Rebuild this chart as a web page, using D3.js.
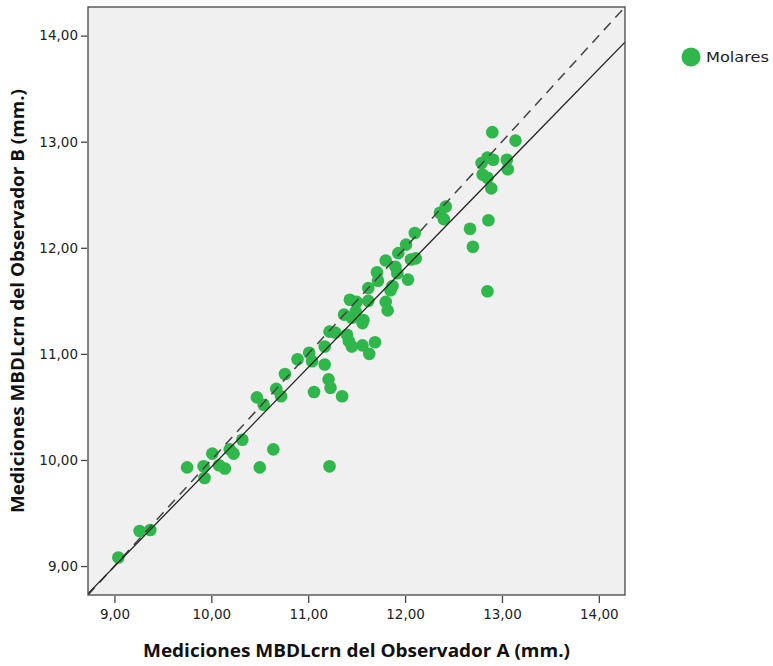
<!DOCTYPE html>
<html>
<head>
<meta charset="utf-8">
<script src="https://cdn.jsdelivr.net/npm/d3@7"></script>
<style>
  html, body { margin: 0; padding: 0; background: #ffffff; }
  svg { display: block; }
</style>
</head>
<body>
<svg id="chart" width="773" height="666"></svg>
<script>
// ---- data ----
const seriesName = "Molares";
const observerA = [
  9.04, 9.26, 9.37, 9.75, 9.92, 9.93, 10.01, 10.08, 10.14, 10.19,
  10.23, 10.32, 10.50, 10.64, 10.47, 10.54, 10.67, 10.72, 10.76, 10.89,
  11.01, 11.04, 11.06, 11.17, 11.17, 11.21, 11.23, 11.35, 11.22, 11.22,
  11.28, 11.37, 11.40, 11.42, 11.45, 11.43, 11.49, 11.50, 11.45, 11.57,
  11.56, 11.56, 11.69, 11.63, 11.62, 11.62, 11.80, 11.82, 11.71, 11.72,
  11.85, 11.87, 11.80, 11.90, 11.92, 12.03, 11.93, 12.01, 12.10, 12.11,
  12.06, 12.42, 12.36, 12.40, 12.67, 12.70, 12.86, 12.85, 12.90, 13.14,
  12.79, 12.85, 12.91, 13.05, 13.06, 12.80, 12.85, 12.89
];
const observerB = [
  9.08, 9.33, 9.34, 9.93, 9.94, 9.83, 10.06, 9.95, 9.92, 10.10,
  10.06, 10.19, 9.93, 10.10, 10.59, 10.52, 10.67, 10.60, 10.81, 10.95,
  11.01, 10.93, 10.64, 11.07, 10.90, 10.76, 10.68, 10.60, 9.94, 11.21,
  11.20, 11.37, 11.18, 11.12, 11.07, 11.51, 11.40, 11.49, 11.34, 11.32,
  11.29, 11.08, 11.11, 11.00, 11.62, 11.50, 11.49, 11.41, 11.77, 11.69,
  11.60, 11.64, 11.88, 11.82, 11.76, 11.70, 11.95, 12.03, 12.14, 11.90,
  11.89, 12.39, 12.33, 12.27, 12.18, 12.01, 12.26, 11.59, 13.09, 13.01,
  12.80, 12.85, 12.83, 12.83, 12.74, 12.69, 12.66, 12.56
];
const tickValues = [9, 10, 11, 12, 13, 14];
const axisDomain = [8.727, 14.27];
const fitIntercept = 0.554;
const fitSlope = 0.938;
const xTitle = "Mediciones MBDLcrn del Observador A (mm.)";
const yTitle = "Mediciones MBDLcrn del Observador B (mm.)";

// ---- layout ----
const svg = d3.select("#chart");
const L = 88, R = 625, T = 7, B = 595;
const x = d3.scaleLinear().domain(axisDomain).range([L, R]);
const y = d3.scaleLinear().domain(axisDomain).range([B, T]);
const fmt = d => d.toFixed(2).replace(".", ",");
const green = "#2fb74b";

svg.append("rect").attr("x", L).attr("y", T).attr("width", R - L).attr("height", B - T)
  .attr("fill", "#f0f0f0");

svg.append("clipPath").attr("id", "clip").append("rect")
  .attr("x", L).attr("y", T).attr("width", R - L).attr("height", B - T);

const pts = observerA.map((a, i) => ({ a, b: observerB[i] }));

const g = svg.append("g").attr("clip-path", "url(#clip)");
g.selectAll("circle").data(pts).join("circle")
  .attr("cx", d => x(d.a)).attr("cy", d => y(d.b)).attr("r", 6.3)
  .attr("fill", green);

// identity (dashed) line
g.append("line")
  .attr("x1", x(axisDomain[0])).attr("y1", y(axisDomain[0]))
  .attr("x2", x(axisDomain[1])).attr("y2", y(axisDomain[1]))
  .attr("stroke", "#444").attr("stroke-width", 1.5).attr("stroke-dasharray", "10,7");

// fit (solid) line
g.append("line")
  .attr("x1", x(axisDomain[0])).attr("y1", y(fitIntercept + fitSlope * axisDomain[0]))
  .attr("x2", x(axisDomain[1])).attr("y2", y(fitIntercept + fitSlope * axisDomain[1]))
  .attr("stroke", "#222").attr("stroke-width", 1.3);

// frame
svg.append("rect").attr("x", L).attr("y", T).attr("width", R - L).attr("height", B - T)
  .attr("fill", "none").attr("stroke", "#444").attr("stroke-width", 1.3);

// axes
const xAxis = d3.axisBottom(x).tickValues(tickValues).tickFormat(fmt).tickSizeOuter(0).tickSizeInner(7).tickPadding(6);
const yAxis = d3.axisLeft(y).tickValues(tickValues).tickFormat(fmt).tickSizeOuter(0).tickSizeInner(6).tickPadding(3);

const gx = svg.append("g").attr("transform", `translate(0,${B + 1})`).call(xAxis);
const gy = svg.append("g").attr("transform", `translate(${L - 1},0)`).call(yAxis);
[gx, gy].forEach(ax => {
  ax.select(".domain").remove();
  ax.selectAll(".tick line").attr("stroke", "#444").attr("stroke-width", 1.3);
  ax.selectAll(".tick text").attr("fill", "#222")
    .style("font-family", "'DejaVu Sans', sans-serif").style("font-size", "13.5px");
});

// axis titles
svg.append("text").attr("x", (L + R) / 2).attr("y", 657).attr("text-anchor", "middle")
  .attr("textLength", 427).attr("lengthAdjust", "spacingAndGlyphs")
  .style("font-family", "'Open Sans', sans-serif").style("font-weight", "bold").style("font-size", "18px")
  .attr("fill", "#111").text(xTitle);
svg.append("text").attr("transform", `translate(24,${(T + B) / 2}) rotate(-90)`).attr("text-anchor", "middle")
  .attr("textLength", 424).attr("lengthAdjust", "spacingAndGlyphs")
  .style("font-family", "'Open Sans', sans-serif").style("font-weight", "bold").style("font-size", "18px")
  .attr("fill", "#111").text(yTitle);

// legend
const lg = svg.append("g");
lg.append("circle").attr("cx", 691).attr("cy", 57).attr("r", 9.5).attr("fill", green);
lg.append("text").attr("x", 706).attr("y", 62)
  .attr("textLength", 63).attr("lengthAdjust", "spacingAndGlyphs")
  .style("font-family", "'DejaVu Sans', sans-serif").style("font-size", "14.5px").attr("fill", "#222")
  .text(seriesName);
</script>
</body>
</html>
